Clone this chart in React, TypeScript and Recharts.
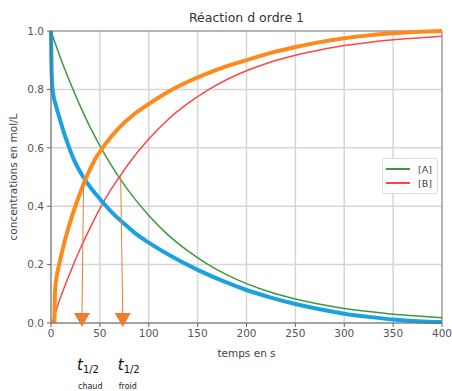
import {
  LineChart,
  Line,
  XAxis,
  YAxis,
  CartesianGrid,
  Legend,
  ReferenceLine,
  ReferenceDot,
} from "recharts";

// temps en s / concentrations en mol/L
const aTimes = [0, 10, 20, 30, 40, 50, 60, 70, 80, 100, 120, 140, 160, 180, 200, 225, 250, 275, 300, 325, 350, 375, 400];
const aValues = [1.0, 0.905, 0.82, 0.742, 0.671, 0.607, 0.549, 0.497, 0.45, 0.368, 0.301, 0.247, 0.202, 0.165, 0.135, 0.105, 0.082, 0.064, 0.05, 0.039, 0.03, 0.024, 0.018];

const bTimes = [1, 10, 20, 30, 40, 50, 60, 70, 80, 100, 120, 140, 160, 180, 200, 225, 250, 275, 300, 325, 350, 375, 400];
const bValues = [0, 0.09, 0.176, 0.255, 0.326, 0.392, 0.45, 0.5, 0.548, 0.63, 0.698, 0.752, 0.797, 0.834, 0.864, 0.894, 0.917, 0.935, 0.95, 0.961, 0.97, 0.976, 0.982];

const hotATimes = [0, 0.5, 1, 2, 3, 5, 8, 12, 17, 24, 33, 42, 50, 62, 75, 87, 100, 125, 150, 175, 200, 225, 250, 275, 300, 325, 350, 375, 400];
const hotAValues = [1.0, 0.88, 0.83, 0.79, 0.77, 0.745, 0.71, 0.665, 0.615, 0.555, 0.5, 0.457, 0.425, 0.38, 0.34, 0.305, 0.275, 0.225, 0.182, 0.145, 0.113, 0.087, 0.065, 0.047, 0.032, 0.021, 0.012, 0.006, 0.003];

const hotBTimes = [3.5, 4, 5, 7, 9, 14, 20, 26, 35, 45, 55, 70, 85, 100, 120, 140, 160, 180, 200, 225, 250, 275, 300, 325, 350, 375, 400];
const hotBValues = [0, 0.1, 0.14, 0.18, 0.21, 0.28, 0.35, 0.41, 0.49, 0.56, 0.61, 0.67, 0.715, 0.75, 0.792, 0.826, 0.855, 0.88, 0.9, 0.925, 0.945, 0.962, 0.975, 0.985, 0.992, 0.997, 1.0];

const xTicks = [0, 50, 100, 150, 200, 250, 300, 350, 400];
const yTicks = [0, 0.2, 0.4, 0.6, 0.8, 1.0];

// demi-vies : départ au croisement, arrivée sur l'axe
const halfLives = [
  { name: "chaud", top: 33.4, bottom: 31.7 },
  { name: "froid", top: 71.3, bottom: 73.4 },
];

const toPoints = (ts: number[], vs: number[]) => ts.map((t, i) => ({ t, v: vs[i] }));

const FONT = "DejaVu Sans, sans-serif";
const ARROW = "#ed7d31";

function Arrowhead(props: any) {
  const { cx, cy, name } = props;
  return (
    <g>
      <polygon points={`${cx - 8},${cy - 10} ${cx + 8},${cy - 10} ${cx},${cy + 4}`} fill={ARROW} />
      <text x={cx - 5} y={cy + 47} fontFamily={FONT} fill="#111">
        <tspan fontStyle="italic" fontSize={15}>t</tspan>
        <tspan fontSize={10} dy={3}>1/2</tspan>
      </text>
      <text x={cx - 4} y={cy + 66} fontFamily={FONT} fontSize={8} fill="#222">
        {name}
      </text>
    </g>
  );
}

function LegendBox({ payload }: any) {
  const items = (payload || []).filter((p: any) => p.type !== "none" && !String(p.value).includes("chaud"));
  return (
    <div
      style={{
        background: "#fff",
        border: "1px solid #ddd",
        borderRadius: 3,
        padding: "3px 4px 3px 3px",
        fontFamily: FONT,
        fontSize: 9.5,
        color: "#444",
      }}
    >
      {items.map((p: any) => (
        <div key={p.value} style={{ display: "flex", alignItems: "center", height: 14 }}>
          <span style={{ width: 24, height: 2, background: p.color, marginRight: 8 }} />
          {p.value}
        </div>
      ))}
    </div>
  );
}

export default function App() {
  return (
    <div style={{ position: "absolute", left: 0, top: 0, width: 452, height: 391, background: "#fff" }}>
      <div
        style={{
          position: "absolute",
          left: 51,
          width: 391,
          top: 10,
          textAlign: "center",
          fontFamily: FONT,
          fontSize: 12.5,
          color: "#333",
        }}
      >
        Réaction d ordre 1
      </div>
      <LineChart width={452} height={391} margin={{ top: 31, right: 10, bottom: 38, left: 0 }}>
        <CartesianGrid stroke="#d6d6d6" strokeWidth={1.5} horizontalValues={yTicks} verticalValues={xTicks} />
        <XAxis
          type="number"
          dataKey="t"
          domain={[0, 400]}
          ticks={xTicks}
          height={30}
          tickSize={4}
          tickMargin={3}
          stroke="#666"
          tick={{ fill: "#555", fontSize: 10.5, fontFamily: FONT }}
          label={{ value: "temps en s", position: "insideBottom", offset: -4, fill: "#444", fontSize: 10.5, fontFamily: FONT }}
        />
        <YAxis
          type="number"
          domain={[0, 1]}
          ticks={yTicks}
          width={51}
          tickSize={4}
          tickMargin={3}
          stroke="#666"
          tickFormatter={(v: number) => v.toFixed(1)}
          tick={{ fill: "#555", fontSize: 10.5, fontFamily: FONT }}
          label={{ value: "concentrations en mol/L", angle: -90, position: "center", dx: -12, fill: "#444", fontSize: 10.5, fontFamily: FONT }}
        />
        <ReferenceLine y={1} stroke="#888" />
        <ReferenceLine x={400} stroke="#888" />
        <Line data={toPoints(aTimes, aValues)} dataKey="v" name="[A]" type="monotone" stroke="#3a9a3a" strokeWidth={1.5} dot={false} isAnimationActive={false} />
        <Line data={toPoints(bTimes, bValues)} dataKey="v" name="[B]" type="monotone" stroke="#ff4545" strokeWidth={1.5} dot={false} isAnimationActive={false} />
        <Line data={toPoints(hotATimes, hotAValues)} dataKey="v" name="[A] chaud" legendType="none" type="monotone" stroke="#1ba0e2" strokeWidth={4} dot={false} isAnimationActive={false} />
        <Line data={toPoints(hotBTimes, hotBValues)} dataKey="v" name="[B] chaud" legendType="none" type="monotone" stroke="#ff8a1c" strokeWidth={4} dot={false} isAnimationActive={false} />
        {halfLives.map((h) => (
          <ReferenceLine
            key={`l-${h.name}`}
            segment={[
              { x: h.top, y: 0.5 },
              { x: h.bottom, y: 0.03 },
            ]}
            stroke={ARROW}
            strokeWidth={1}
          />
        ))}
        {halfLives.map((h) => (
          <ReferenceDot
            key={`d-${h.name}`}
            x={h.bottom}
            y={0}
            r={0}
            ifOverflow="visible"
            shape={(p: any) => <Arrowhead {...p} name={h.name} />}
          />
        ))}
        <Legend
          layout="horizontal"
          verticalAlign="middle"
          align="center"
          wrapperStyle={{ left: 382, top: 158, width: 56 }}
          content={<LegendBox />}
        />
      </LineChart>
    </div>
  );
}
